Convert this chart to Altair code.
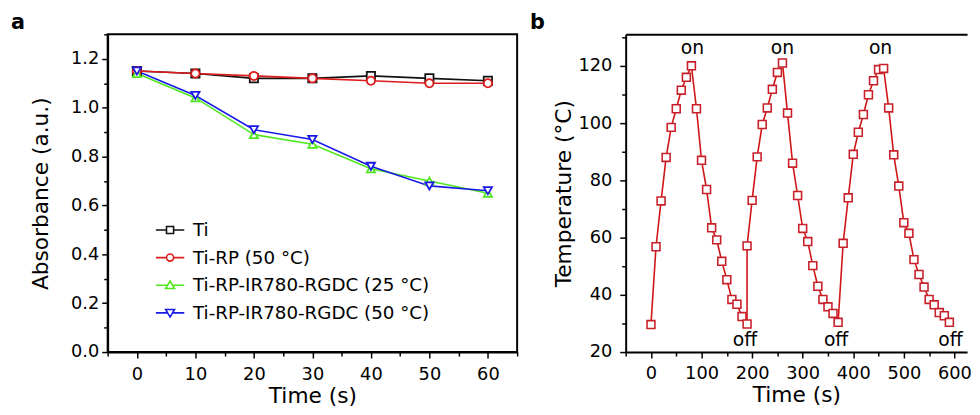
import altair as alt
import pandas as pd

# ---------------- Panel a data ----------------
time_a = [0, 10, 20, 30, 40, 50, 60]
series_names = ["Ti", "Ti-RP (50 °C)", "Ti-RP-IR780-RGDC (25 °C)", "Ti-RP-IR780-RGDC (50 °C)"]
abs_ti = [1.15, 1.14, 1.12, 1.12, 1.13, 1.12, 1.11]
abs_ti_rp = [1.15, 1.14, 1.13, 1.12, 1.11, 1.10, 1.10]
abs_ir780_25 = [1.14, 1.04, 0.89, 0.85, 0.75, 0.70, 0.65]
abs_ir780_50 = [1.15, 1.05, 0.91, 0.87, 0.76, 0.68, 0.66]
series_colors = ["#111111", "#dd1c1c", "#4fe81e", "#1a1ae6"]
point_shapes = ["square", "circle", "triangle-up", "triangle-down"]
legend_paths = [
    "M-3.2,0H-0.8M0.8,0H3.2M-0.8,-0.8H0.8V0.8H-0.8Z",
    "M-3.2,0H-0.8M0.8,0H3.2M-0.8,0A0.8,0.8,0,1,1,0.8,0A0.8,0.8,0,1,1,-0.8,0Z",
    "M-3.2,0H-0.55M0.55,0H3.2M0,-0.95L1.0,0.75H-1.0Z",
    "M-3.2,0H-0.55M0.55,0H3.2M0,0.95L1.0,-0.75H-1.0Z",
]

# ---------------- Panel b data ----------------
time_b = [0, 10, 20, 30, 40, 50, 60, 70, 80,
          90, 100, 110, 120, 130, 140, 150, 160, 170, 180, 190,
          190, 200, 210, 220, 230, 240, 250, 260,
          270, 280, 290, 300, 310, 320, 330, 340, 350, 360, 370,
          380, 390, 400, 410, 420, 430, 440, 450, 460,
          470, 480, 490, 500, 510, 520, 530, 540, 550, 560, 570, 580, 590]
temp_b = [29.6, 56.8, 72.8, 88.0, 98.5, 105.0, 111.5, 116.0, 120.0,
          105.0, 87.0, 76.8, 63.4, 59.2, 51.7, 45.3, 38.4, 36.7, 32.4, 29.8,
          57.1, 73.0, 88.2, 99.5, 105.3, 111.8, 117.7, 121.0,
          103.5, 86.0, 74.7, 63.2, 58.6, 50.2, 43.0, 38.4, 35.8, 33.5, 30.4,
          58.0, 73.9, 89.1, 96.8, 103.0, 109.9, 114.8, 118.7, 119.1,
          105.3, 88.9, 78.0, 65.2, 61.5, 52.3, 47.1, 42.7, 38.4, 36.5, 33.8, 32.7, 30.4]
label_text = ["on", "on", "on", "off", "off", "off"]
label_time = [82, 260, 454, 186, 366, 592]
label_temp = [126.3, 126.3, 126.3, 24.3, 24.3, 24.3]

FONT = "DejaVu Sans"

# ---------------- tables ----------------
rows = []
for name, vals in zip(series_names, [abs_ti, abs_ti_rp, abs_ir780_25, abs_ir780_50]):
    for t, v in zip(time_a, vals):
        rows.append({"time": t, "absorbance": v, "series": name})
df_a = pd.DataFrame(rows)
df_b = pd.DataFrame({"time": time_b, "temp": temp_b, "idx": list(range(len(time_b)))})
df_lab = pd.DataFrame({"time": label_time, "temp": label_temp, "text": label_text})

# ---------------- Panel a ----------------
xa_scale = alt.Scale(domain=[-5, 65], nice=False, zero=False)
ya_scale = alt.Scale(domain=[0, 1.3], nice=False)
xa_vals = list(range(-5, 66, 5))
ya_vals = [round(i * 0.1, 1) for i in range(0, 14)]

xa = alt.X("time:Q", scale=xa_scale,
           axis=alt.Axis(values=xa_vals, title="Time (s)",
                         labelExpr="datum.value % 10 === 0 ? datum.label : ''",
                         tickSize={"condition": {"test": "datum.value % 10 === 0", "value": 6}, "value": 4},
                         labelPadding=8, titlePadding=2))
ya = alt.Y("absorbance:Q", scale=ya_scale,
           axis=alt.Axis(values=ya_vals, format=".1f", title="Absorbance (a.u.)",
                         labelExpr="round(datum.value * 10) % 2 === 0 ? datum.label : ''",
                         tickSize={"condition": {"test": "round(datum.value * 10) % 2 === 0", "value": 6}, "value": 4},
                         labelPadding=3, titlePadding=18))

base_a = alt.Chart(df_a)
layers_a = []
for name, col in zip(series_names, series_colors):
    layers_a.append(
        base_a.transform_filter(alt.datum.series == name)
        .mark_line(color=col, strokeWidth=1.6)
        .encode(x=xa, y=ya)
    )
for name, col, shp in zip(series_names, series_colors, point_shapes):
    layers_a.append(
        base_a.transform_filter(alt.datum.series == name)
        .mark_point(shape=shp, size=70, strokeWidth=1.8, stroke=col, fill="white",
                    fillOpacity=1, opacity=1)
        .encode(x=xa, y=ya)
    )

leg = alt.Legend(orient="none", legendX=54, legendY=189, title=None, padding=0,
                 labelFont=FONT, labelFontSize=18.5, labelColor="black", labelOffset=14,
                 labelLimit=0, symbolSize=81, symbolStrokeWidth=1.6, symbolOpacity=1,
                 rowPadding=9, symbolFillColor="transparent")
legend_layer = base_a.mark_point(opacity=0, size=81, filled=False).encode(
    x=xa, y=ya,
    color=alt.Color("series:N", scale=alt.Scale(domain=series_names, range=series_colors), legend=leg),
    shape=alt.Shape("series:N", scale=alt.Scale(domain=series_names, range=legend_paths), legend=leg),
)

panel_a = alt.layer(*layers_a, legend_layer).properties(
    width=415, height=322,
    view=alt.ViewConfig(stroke="black", strokeWidth=2),
    title=alt.Title("a", anchor="start", frame="group", dx=-98, offset=1,
                    font=FONT, fontSize=21, fontWeight="bold", color="black"),
)

# ---------------- Panel b ----------------
xb_scale = alt.Scale(domain=[-50, 625], nice=False, zero=False)
yb_scale = alt.Scale(domain=[20, 131], nice=False, zero=False)
xb = alt.X("time:Q", scale=xb_scale,
           axis=alt.Axis(values=list(range(-50, 601, 50)), title="Time (s)",
                         labelExpr="datum.value % 100 === 0 ? datum.label : ''",
                         tickSize={"condition": {"test": "datum.value % 100 === 0", "value": 6}, "value": 4},
                         labelPadding=7, titlePadding=2))
yb = alt.Y("temp:Q", scale=yb_scale,
           axis=alt.Axis(values=list(range(20, 131, 10)), title="Temperature (°C)",
                         labelExpr="datum.value % 20 === 0 ? datum.label : ''",
                         tickSize={"condition": {"test": "datum.value % 20 === 0", "value": 6}, "value": 4},
                         labelPadding=8, titlePadding=3))

base_b = alt.Chart(df_b)
line_b = base_b.mark_line(color="#d01515", strokeWidth=1.6).encode(x=xb, y=yb, order="idx:Q")
pts_b = base_b.mark_point(shape="square", size=64, stroke="#c8202a", strokeWidth=1.6,
                          fill="white", fillOpacity=1, opacity=1).encode(x=xb, y=yb)
text_b = alt.Chart(df_lab).mark_text(font=FONT, fontSize=19, color="black",
                                     baseline="middle", align="center").encode(
    x=xb, y=yb, text="text:N")
inner_b = alt.layer(line_b, pts_b, text_b)
top_b = base_b.mark_point(opacity=0).encode(
    x=alt.X("time:Q", scale=xb_scale,
            axis=alt.Axis(orient="top", labels=False, ticks=False, title=None, domain=True)))

panel_b = alt.layer(inner_b, top_b).resolve_axis(x="independent").properties(
    width=346, height=322,
    view=alt.ViewConfig(stroke="transparent", strokeWidth=0),
    title=alt.Title("b", anchor="start", frame="group", dx=-97, offset=1,
                    font=FONT, fontSize=21, fontWeight="bold", color="black"),
)

chart = alt.hconcat(panel_a, panel_b, spacing=11).properties(
    padding={"left": 2, "top": 0, "right": 0, "bottom": 0}
).configure(background="white").configure_axis(
    grid=False, domainColor="black", domainWidth=2, tickColor="black", tickWidth=1.5,
    labelFont=FONT, labelFontSize=18, labelColor="black",
    titleFont=FONT, titleFontSize=22, titleFontWeight="normal", titleColor="black",
)

chart.save("out.html", embed_options={"renderer": "svg", "actions": False})
